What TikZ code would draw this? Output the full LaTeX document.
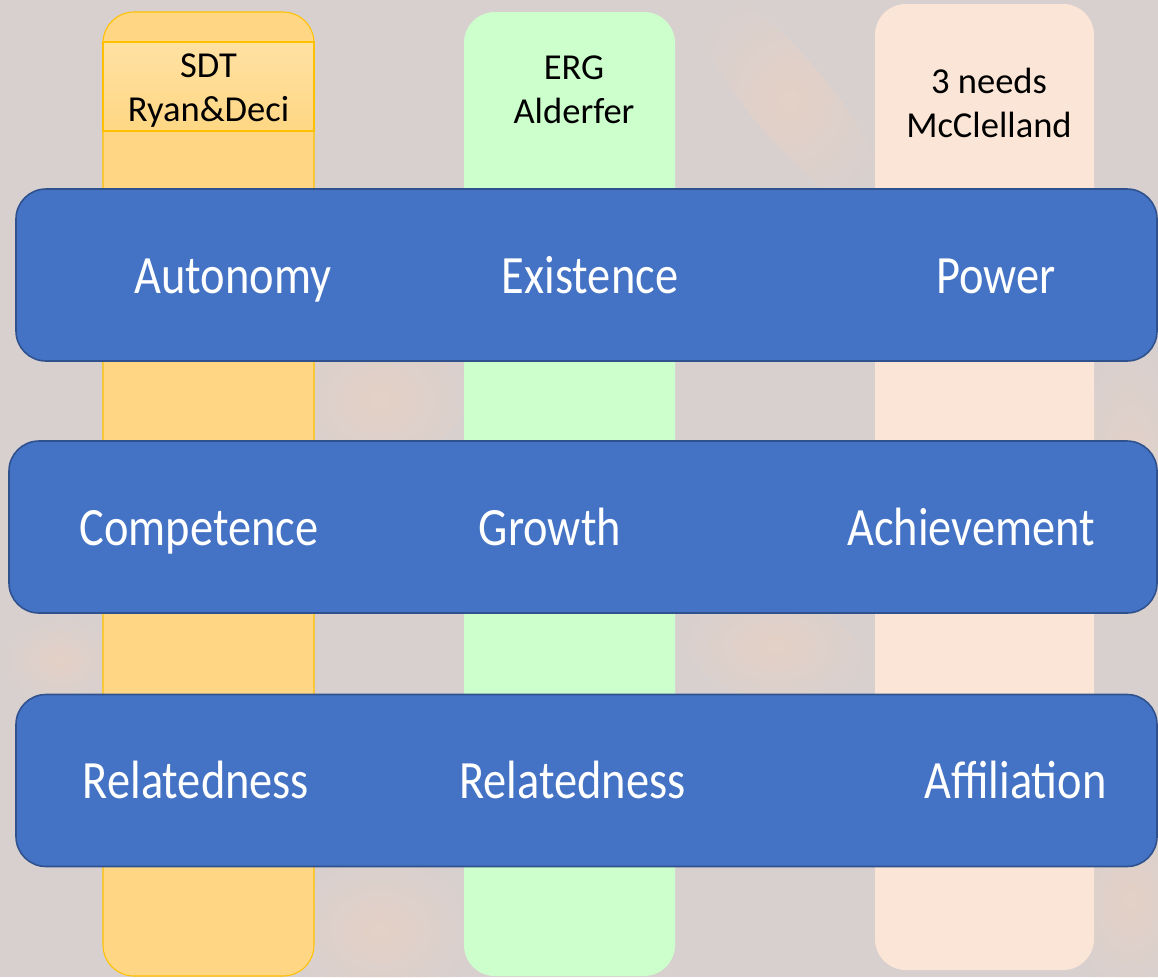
\documentclass[tikz,border=0pt]{standalone}
\usepackage{fontspec}
\setmainfont{Carlito}
\newfontfamily\bandfont[FakeStretch=0.86]{Carlito}
\usetikzlibrary{fadings}

\definecolor{sdtfill}{HTML}{FFD784}
\definecolor{sdtline}{HTML}{FFC000}
\definecolor{ergfill}{HTML}{CCFFCC}
\definecolor{mccfill}{HTML}{FBE5D6}
\definecolor{bandfill}{HTML}{4472C4}
\definecolor{bandline}{HTML}{2F528F}
\definecolor{backdrop}{HTML}{D8D0CF}
\definecolor{flame}{HTML}{F0D2BE}

\tikzfading[name=softspot, inner color=transparent!0, outer color=transparent!100]

\begin{document}
\begin{tikzpicture}[
    column/.style={rectangle, rounded corners=0.62cm, minimum width=4.22cm, minimum height=19.28cm, inner sep=0pt},
    band/.style={rectangle, draw=bandline, line width=0.9pt, fill=bandfill, rounded corners=0.6cm, minimum height=3.44cm, inner sep=0pt},
    need/.style={text=white, anchor=base, font=\bandfont\fontsize{30.7}{36}\selectfont},
    theory/.style={align=center, anchor=base, font=\fontsize{20.8}{25}\selectfont}]

% backdrop
\useasboundingbox (0,0) rectangle (23.16,-19.54);
\clip (0,0) rectangle (23.16,-19.54);
\fill[backdrop] (0,0) rectangle (23.16,-19.54);
\foreach \x/\y/\a/\b/\r in {15.8/-2.0/0.8/2.8/40, 7.6/-8.0/2.0/1.4/30, 22.6/-9.6/1.2/3.0/0,
    7.6/-18.6/2.0/1.6/0, 22.6/-18.0/1.4/2.0/0, 1.2/-13.2/1.2/0.9/0, 15.5/-13.0/2.0/1.1/-20}
  \fill[flame, opacity=.5, path fading=softspot, rotate around={\r:(\x,\y)}] (\x,\y) ellipse ({\a} and {\b});

% Columns
\node[column, fill=sdtfill, draw=sdtline, line width=0.6pt] (sdt) at (4.17,-9.88) {};
\node[column, fill=ergfill] (erg) at (11.39,-9.88) {};
\node[column, fill=mccfill, minimum width=4.38cm, minimum height=19.32cm] (mcc) at (19.69,-9.74) {};
\node[rectangle, draw=sdtline, line width=0.6pt, top color=sdtfill!75!white, bottom color=sdtfill,
      minimum width=4.22cm, minimum height=1.78cm, inner sep=0pt] (sdthead) at (4.17,-1.73) {};

\node[theory] (sdtname) at (4.17,-2.42) {SDT\\Ryan\&Deci};
\node[theory] (ergname) at (11.48,-2.46) {ERG\\Alderfer};
\node[theory] (mccname) at (19.78,-2.74) {3 needs\\McClelland};

% Bands
\node[band, minimum width=22.82cm] (top) at (11.73,-5.50) {};
\node[band, minimum width=22.96cm] (mid) at (11.66,-10.54) {};
\node[band, minimum width=22.82cm] (low) at (11.73,-15.61) {};

\node[need] (autonomy) at (4.66,-5.86) {Autonomy};
\node[need] (existence) at (11.80,-5.86) {Existence};
\node[need] (power) at (19.92,-5.86) {Power};

\node[need] (competence) at (3.98,-10.90) {Competence};
\node[need] (growth) at (11.00,-10.90) {Growth};
\node[need] (achievement) at (19.42,-10.90) {Achievement};

\node[need] (relsdt) at (3.92,-15.97) {Relatedness};
\node[need] (relerg) at (11.45,-15.97) {Relatedness};
\node[need] (affiliation) at (20.31,-15.97) {Affiliation};

\end{tikzpicture}
\end{document}
